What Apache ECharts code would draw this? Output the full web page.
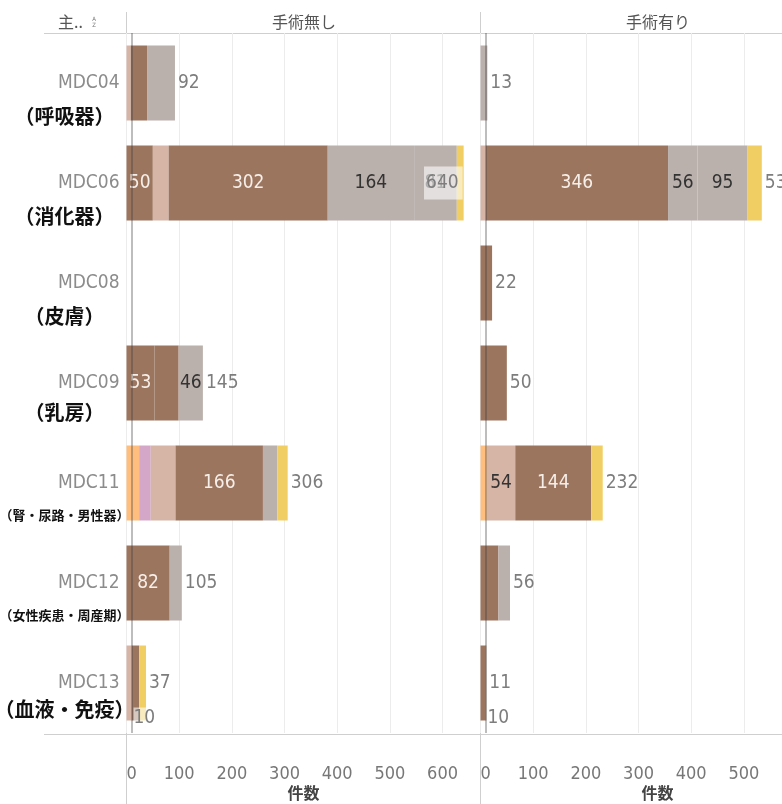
<!DOCTYPE html>
<html><head><meta charset="utf-8">
<script src="https://cdn.jsdelivr.net/npm/echarts@6/dist/echarts.min.js"></script>
<style>html,body{margin:0;padding:0;background:#fff}#c{width:782px;height:804px}</style>
</head><body><div id="c"></div>
<script>
// ---------- DATA ----------
const categories = ['MDC04','MDC06','MDC08','MDC09','MDC11','MDC12','MDC13'];
const categoryNames = ['（呼吸器）','（消化器）','（皮膚）','（乳房）','（腎・尿路・男性器）','（女性疾患・周産期）','（血液・免疫）'];
const panelTitles = ['手術無し','手術有り'];
const axisTitle = '件数';
const rowHeaderTitle = '主..';
const xTicks = [0,100,200,300,400,500,600];

// 手術無し (stack order)
const noSurgeryBrownA     = [0, 50, 0, 53, 0, 0, 0];
const noSurgeryOrange     = [0, 0, 0, 0, 24, 0, 0];
const noSurgeryPurple     = [0, 0, 0, 0, 22, 0, 0];
const noSurgeryLightBrown = [8, 30, 0, 0, 47, 0, 10];
const noSurgeryBrownB     = [31, 302, 0, 46, 166, 82, 14];
const noSurgeryGrayA      = [53, 164, 0, 46, 27, 23, 0];
const noSurgeryGrayB      = [0, 81, 0, 0, 0, 0, 0];
const noSurgeryYellow     = [0, 13, 0, 0, 20, 0, 13];

// 手術有り (stack order)
const surgeryBrownA     = [0, 0, 0, 0, 0, 0, 10];
const surgeryOrange     = [0, 0, 0, 0, 12, 0, 0];
const surgeryPurple     = [0, 0, 0, 0, 0, 0, 0];
const surgeryLightBrown = [0, 10, 0, 0, 54, 0, 0];
const surgeryBrownB     = [0, 346, 22, 50, 144, 34, 1];
const surgeryGrayA      = [13, 56, 0, 0, 0, 22, 0];
const surgeryGrayB      = [0, 95, 0, 0, 0, 0, 0];
const surgeryYellow     = [0, 27, 0, 0, 22, 0, 0];

// ---------- STRUCTURE / STYLE ----------
const segmentKeys = ['brownA','orange','purple','lightBrown','brownB','grayA','grayB','yellow'];
const segmentColors = {brownA:'#9C755F', orange:'#FFBE7D', purple:'#D4A6C8', lightBrown:'#D7B5A6',
  brownB:'#9C755F', grayA:'#BAB0AC', grayB:'#BAB0AC', yellow:'#F1CE63'};
const panelData = [
  {brownA:noSurgeryBrownA, orange:noSurgeryOrange, purple:noSurgeryPurple, lightBrown:noSurgeryLightBrown,
   brownB:noSurgeryBrownB, grayA:noSurgeryGrayA, grayB:noSurgeryGrayB, yellow:noSurgeryYellow},
  {brownA:surgeryBrownA, orange:surgeryOrange, purple:surgeryPurple, lightBrown:surgeryLightBrown,
   brownB:surgeryBrownB, grayA:surgeryGrayA, grayB:surgeryGrayB, yellow:surgeryYellow}
];
// which segment labels are shown: [panel, segment, row, tone]
const segmentLabels = [
  [0,'brownA',1,'light'],[0,'brownB',1,'light'],[0,'grayA',1,'dark'],[0,'grayB',1,'dark'],
  [0,'brownA',3,'light'],[0,'grayA',3,'dark'],
  [0,'brownB',4,'light'],[0,'brownB',5,'light'],
  [1,'brownB',1,'light'],[1,'grayA',1,'dark'],[1,'grayB',1,'dark'],
  [1,'lightBrown',4,'dark'],[1,'brownB',4,'light'],
  [0,'lightBrown',6,'below'],[1,'brownA',6,'below']
];
const nameStyleKeys = ['a','a','a','b','s','s','c'];

const numFont = '"DejaVu Sans Condensed","Noto Sans",sans-serif';
const cjkFont = '"Noto Sans CJK JP","Noto Sans",sans-serif';
const totalColor = '#7d7d7d';
const toneColors = {light:'#f6efe9', dark:'#333333'};
const axisMax = 672;
const refLineValue = 9.5;

function segLabel(tone){
  if (tone === 'below') {
    return {show:true, position:[7,62], color:totalColor, fontSize:19, fontFamily:numFont,
      backgroundColor:'rgba(255,255,255,0.6)', padding:[1,2,1,0]};
  }
  return {show:true, position:'inside', color:toneColors[tone], fontSize:19, fontFamily:numFont};
}

const series = [];
panelData.forEach((pd, p) => {
  segmentKeys.forEach(key => {
    series.push({
      type:'bar', name:key, stack:'p'+p, xAxisIndex:p, yAxisIndex:p===0?0:2,
      barCategoryGap:'25%', silent:true,
      itemStyle:{color:segmentColors[key]},
      label:{show:false},
      data: pd[key].map((v,i) => {
        const spec = segmentLabels.find(s => s[0]===p && s[1]===key && s[2]===i);
        return spec ? {value:v, label:segLabel(spec[3])} : v;
      })
    });
  });
  const totals = categories.map((_,i) => segmentKeys.reduce((s,k) => s + pd[k][i], 0));
  series.push({
    type:'bar', name:'total', stack:'p'+p, xAxisIndex:p, yAxisIndex:p===0?0:2,
    barCategoryGap:'25%', silent:true, itemStyle:{color:'rgba(0,0,0,0)'},
    data: totals.map((t,i) => {
      if (!t) return {value:0, label:{show:false}};
      if (p===0 && i===1) {
        return {value:0, label:{show:true, position:'insideRight', distance:1, formatter:String(t),
          color:totalColor, fontSize:19, fontFamily:numFont,
          backgroundColor:'rgba(255,255,255,0.6)', padding:[7,4,7,2]}};
      }
      return {value:0, label:{show:true, position:'right', distance:3, formatter:String(t),
        color:totalColor, fontSize:19, fontFamily:numFont}};
    }),
    markLine:{silent:true, symbol:'none', animation:false, label:{show:false},
      lineStyle:{color:'rgba(60,60,60,0.45)', width:1.5, type:'solid'},
      data:[{xAxis:refLineValue}]}
  });
});

const xAxes = [0,1].map(p => ({
  type:'value', gridIndex:p, min:0, max:axisMax, interval:100,
  axisLine:{show:false}, axisTick:{show:false},
  splitLine:{show:true, lineStyle:{color:'#ececec', width:1}},
  axisLabel:{color:'#777', fontSize:18, margin:32, fontFamily:numFont,
    showMaxLabel:false, alignMinLabel:'left', hideOverlap:false,
    formatter: v => xTicks.includes(v) ? String(v) : ''},
  name:axisTitle, nameLocation:'middle', nameGap:52, nameMoveOverlap:false,
  nameTextStyle:{color:'#444', fontSize:16, fontWeight:'bold', fontFamily:cjkFont}
}));

const bigName = {fontSize:20, fontWeight:'bold', color:'#111', fontFamily:cjkFont};
const option = {
  animation:false,
  backgroundColor:'#fff',
  grid:[
    {left:126.5, top:33, width:354, height:700, outerBoundsMode:'none', containLabel:false},
    {left:480.5, top:33, width:354, height:700, outerBoundsMode:'none', containLabel:false}
  ],
  xAxis:xAxes,
  yAxis:[
    {type:'category', gridIndex:0, data:categories, inverse:true, position:'left',
      axisLine:{show:false}, axisTick:{show:false},
      axisLabel:{interval:0, margin:7, color:'#8c8c8c', fontSize:19, fontFamily:numFont, padding:[6,0,0,0]}},
    {type:'category', gridIndex:0, data:categoryNames, inverse:true, position:'left', offset:0,
      axisLine:{show:false}, axisTick:{show:false},
      axisLabel:{interval:0, margin:62, align:'center',
        formatter:(v,i) => '{' + nameStyleKeys[i] + '|' + v + '}',
        rich:{
          a:Object.assign({padding:[66,0,0,0]}, bigName),
          b:Object.assign({padding:[58,0,0,0]}, bigName),
          c:Object.assign({padding:[52,0,0,0]}, bigName),
          s:{fontSize:13, fontWeight:'bold', color:'#111', fontFamily:cjkFont, padding:[65,0,0,0]}
        }}},
    {type:'category', gridIndex:1, data:categories, inverse:true,
      axisLine:{show:false}, axisTick:{show:false}, axisLabel:{show:false}}
  ],
  series:series,
  graphic:[
    {type:'line', silent:true, shape:{x1:44,y1:33.5,x2:782,y2:33.5}, style:{stroke:'#cfcfcf', lineWidth:1}},
    {type:'line', silent:true, shape:{x1:44,y1:734.5,x2:782,y2:734.5}, style:{stroke:'#cfcfcf', lineWidth:1}},
    {type:'line', silent:true, shape:{x1:126.5,y1:12,x2:126.5,y2:804}, style:{stroke:'#cfcfcf', lineWidth:1}},
    {type:'line', silent:true, shape:{x1:480.5,y1:12,x2:480.5,y2:804}, style:{stroke:'#cfcfcf', lineWidth:1}},
    {type:'text', silent:true, style:{x:304, y:22, text:panelTitles[0], align:'center', verticalAlign:'middle',
      fill:'#555', fontSize:16, fontFamily:cjkFont}},
    {type:'text', silent:true, style:{x:658, y:22, text:panelTitles[1], align:'center', verticalAlign:'middle',
      fill:'#555', fontSize:16, fontFamily:cjkFont}},
    {type:'text', silent:true, style:{x:58, y:22, text:rowHeaderTitle, align:'left', verticalAlign:'middle',
      fill:'#555', fontSize:16, fontFamily:cjkFont}},
    {type:'text', silent:true, style:{x:94, y:22, text:'A\nZ', align:'center', verticalAlign:'middle',
      fill:'#777', fontSize:6, lineHeight:6, fontFamily:numFont}}
  ]
};
const chart = echarts.init(document.getElementById('c'), null, {renderer:'canvas'});
chart.setOption(option);
</script></body></html>
